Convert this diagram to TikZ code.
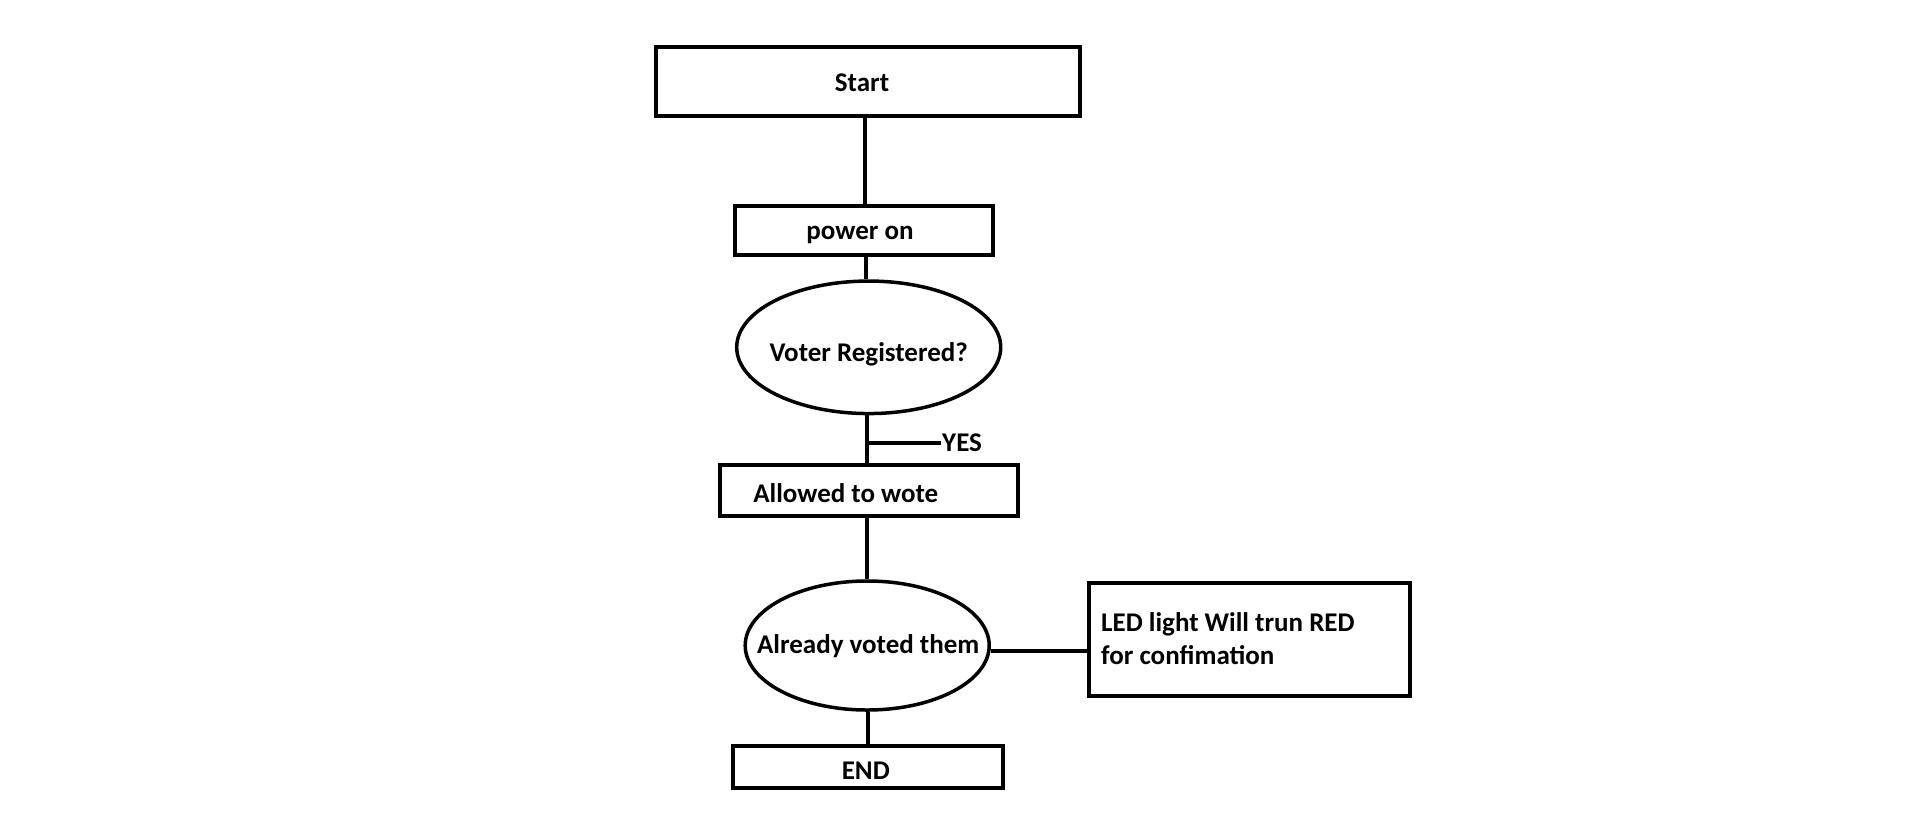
\documentclass[tikz,border=0pt]{standalone}
\usepackage{fontspec}
\setmainfont{Carlito}
\usetikzlibrary{shapes.geometric}
\begin{document}
\begin{tikzpicture}[x=1pt,y=-1pt,
  every node/.style={font=\bfseries\fontsize{27}{33}\selectfont},
  box/.style={draw, line width=4pt, rectangle, inner sep=0pt},
  oval/.style={draw, line width=3.5pt, ellipse, inner sep=0pt},
  lbl/.style={inner sep=0pt, align=left},
  conn/.style={line width=4pt}]
\useasboundingbox (0,0) rectangle (1914,823);
\node[box, minimum width=424, minimum height=69,
  label={[lbl, xshift=-6, yshift=-1.5]center:Start}] (start) at (868,81.5) {};
\node[box, minimum width=258, minimum height=49.5,
  label={[lbl, xshift=-4, yshift=-5]center:power on}] (power) at (864,230.4) {};
\node[oval, minimum width=264, minimum height=132.5,
  label={[lbl, yshift=-7.5]center:Voter Registered?}] (reg) at (868.7,347.3) {};
\node[box, minimum width=297.5, minimum height=50.5,
  label={[lbl, anchor=west, xshift=35, yshift=-2.5]west:Allowed to wote}] (allow) at (868.8,490.5) {};
\node[oval, minimum width=244, minimum height=129,
  label={[lbl, xshift=1, yshift=-0.5]center:Already voted them}] (voted) at (867.2,645.5) {};
\node[box, minimum width=321, minimum height=112.5,
  label={[lbl, anchor=west, xshift=14, yshift=1]west:LED light Will trun RED\\for confimation}] (led) at (1249.5,639.5) {};
\node[box, minimum width=269.5, minimum height=42.6,
  label={[lbl, xshift=-2, yshift=-3.5]center:END}] (end) at (867.8,767) {};
\coordinate (yesj) at (867,443);
\node[anchor=west, inner xsep=1pt, inner ysep=0pt] (yes) at (941,443) {YES};
\draw[conn] (start.south -| 865,0) -- (865,0 |- power.north);
\draw[conn] (power.south -| 866,0) -- (866,0 |- reg.north);
\draw[conn] (reg.south -| 867,0) -- (867,0 |- allow.north);
\draw[conn] (yesj) -- (yes.west);
\draw[conn] (allow.south -| 867,0) -- (867,0 |- voted.north);
\draw[conn] (voted.south -| 868,0) -- (868,0 |- end.north);
\draw[conn] ([yshift=-5.5pt]voted.east) -- ([yshift=-5.5pt]voted.east -| led.west);
\end{tikzpicture}
\end{document}
